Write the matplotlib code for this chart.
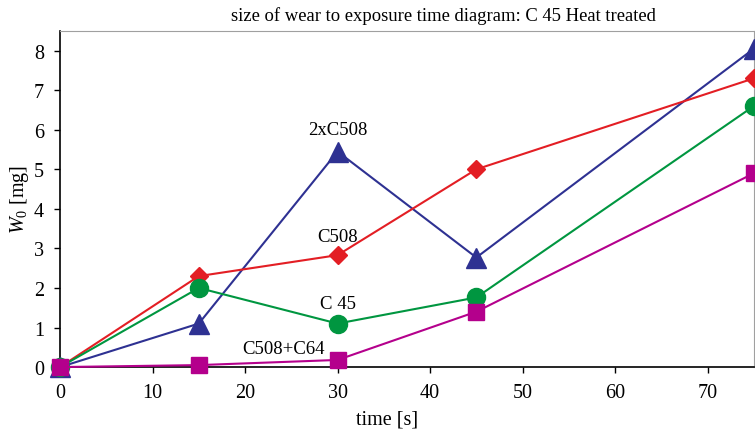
import matplotlib.pyplot as plt

plt.rcParams['font.family'] = ['Liberation Serif', 'DejaVu Serif']
plt.rcParams['mathtext.fontset'] = 'custom'
plt.rcParams['mathtext.it'] = 'Liberation Serif:italic'
plt.rcParams['mathtext.rm'] = 'Liberation Serif'

# data
time_s = [0, 15, 30, 45, 75]
w_2xc508 = [0, 1.1, 5.45, 2.77, 8.05]
w_c508 = [0, 2.3, 2.83, 5.0, 7.3]
w_c45 = [0, 2.0, 1.1, 1.76, 6.6]
w_c508_c64 = [0, 0.05, 0.18, 1.4, 4.9]

series = [
    ('2xC508', w_2xc508, '#2e3192', '^', 14),
    ('C508', w_c508, '#e31e24', 'D', 9),
    ('C 45', w_c45, '#009640', 'o', 13),
    ('C508+C64', w_c508_c64, '#b4008c', 's', 12),
]
# label positions (x, y) next to the curves
label_pos = {
    '2xC508': (30, 6.0),
    'C508': (30, 3.3),
    'C 45': (30, 1.62),
    'C508+C64': (24.2, 0.48),
}

fig = plt.figure(figsize=(7.55, 4.31), dpi=100)
ax = fig.add_axes([0.0795, 0.146, 0.919, 0.78])

for name, vals, col, mk, ms in series:
    ax.plot(time_s, vals, color=col, lw=1.5, marker=mk, ms=ms,
            markeredgecolor=col, clip_on=False, zorder=3)
    lx, ly = label_pos[name]
    ax.text(lx, ly, name, ha='center', va='center', fontsize=13.5)

ax.set_xlim(0, 75)
ax.set_ylim(0, 8.5)
ax.set_xticks(range(0, 80, 10))
ax.set_yticks(range(0, 9))
ax.tick_params(direction='out', length=4.5, labelsize=14.5, width=1, pad=7)
ax.spines['top'].set_color('#a0a0a0')
ax.spines['right'].set_color('#a0a0a0')
for s in ('left', 'bottom'):
    ax.spines[s].set_linewidth(1.2)

ax.set_title('size of wear to exposure time diagram: C 45 Heat treated',
             fontsize=13.4, pad=8, x=0.552)
ax.set_xlabel('time [s]', fontsize=14.5, labelpad=0)
ax.xaxis.set_label_coords(0.472, -0.125)
ax.set_ylabel('$W_0$ [mg]', fontsize=14.5)
ax.yaxis.set_label_coords(-0.042, 0.5)

fig.savefig('out.png', dpi=100)
